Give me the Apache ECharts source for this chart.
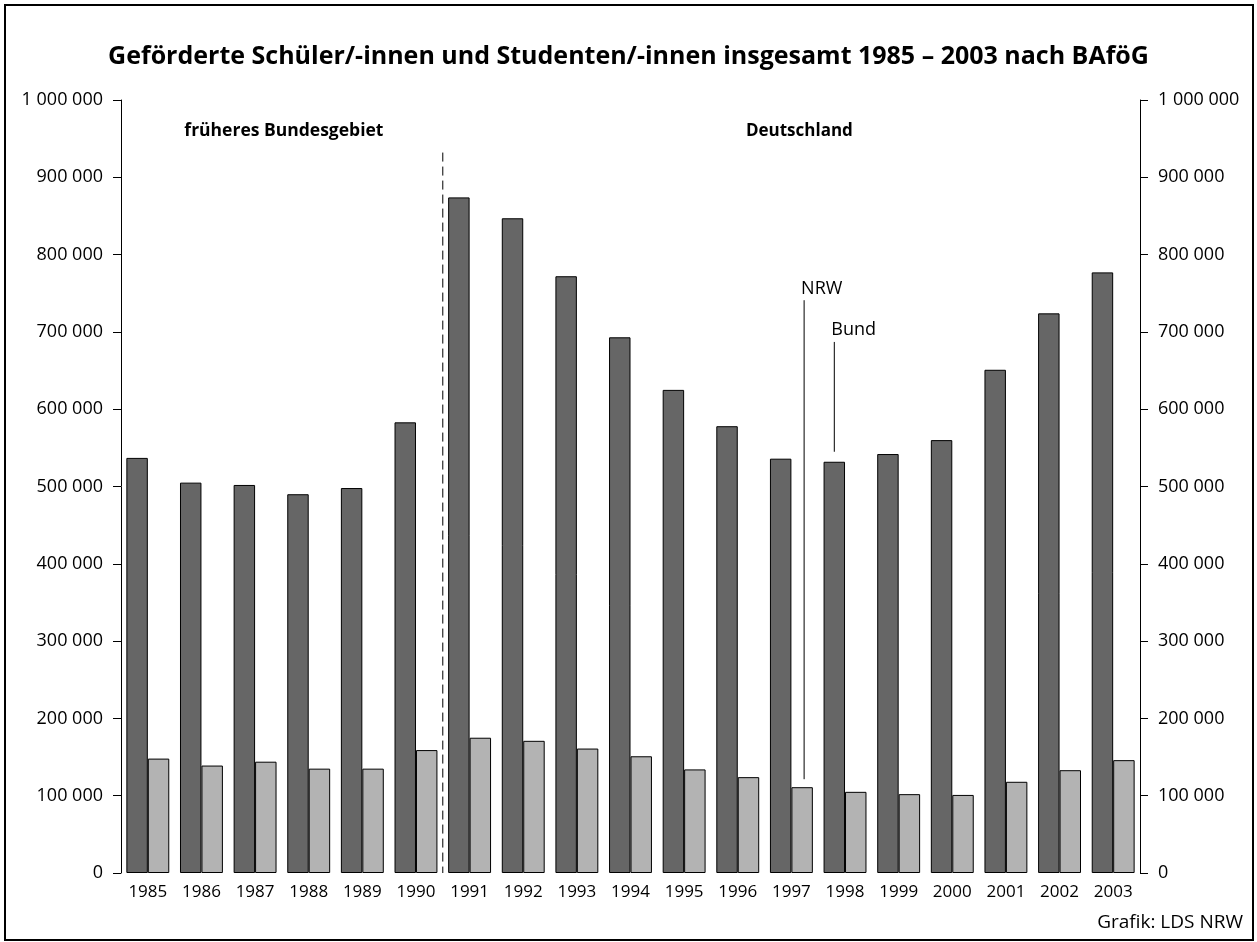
<!DOCTYPE html>
<html>
<head>
<meta charset="utf-8">
<script src="https://cdn.jsdelivr.net/npm/echarts@6/dist/echarts.min.js"></script>
<style>
html,body{margin:0;padding:0;background:#fff;}
#c{width:1257px;height:942px;}
</style>
</head>
<body>
<div id="c"></div>
<script>
const years = ['1985','1986','1987','1988','1989','1990','1991','1992','1993','1994','1995','1996','1997','1998','1999','2000','2001','2002','2003'];
const bund = [537000, 505000, 502000, 490000, 498000, 583000, 874000, 847000, 772000, 693000, 625000, 578000, 536000, 532000, 542000, 560000, 651000, 724000, 777000];
const nrw = [148000, 139000, 144000, 135000, 135000, 159000, 175000, 171000, 161000, 151000, 134000, 124000, 111000, 105000, 102000, 101000, 118000, 133000, 146000];
const yTicks = [0, 100000, 200000, 300000, 400000, 500000, 600000, 700000, 800000, 900000, 1000000];
const title = 'Geförderte Schüler/-innen und Studenten/-innen insgesamt 1985 – 2003 nach BAföG';
const regionLabels = ['früheres Bundesgebiet', 'Deutschland'];
const source = 'Grafik: LDS NRW';

const FONT = "'Open Sans', 'Noto Sans', sans-serif";
const fmt = v => String(v).replace(/\B(?=(\d{3})+(?!\d))/g, ' ');

const chart = echarts.init(document.getElementById('c'), null, {renderer: 'canvas'});

const yAxisBase = {
  type: 'value', min: yTicks[0], max: yTicks[yTicks.length-1], interval: 100000,
  splitLine: {show: false},
  axisLine: {show: true, lineStyle: {color: '#000', width: 1}},
  axisTick: {show: true, length: 8, lineStyle: {color: '#000', width: 1}},
  axisLabel: {fontFamily: FONT, fontSize: 18, color: '#000', margin: 18, formatter: fmt}
};

chart.setOption({
  animation: false,
  backgroundColor: '#fff',
  title: {
    text: title, left: 'center', top: 39,
    textStyle: {fontFamily: FONT, fontWeight: 'bold', fontSize: 25, color: '#000'}
  },
  grid: {left: 121, right: 117, top: 100, height: 773},
  xAxis: {
    type: 'category', data: years,
    axisLine: {show: false}, axisTick: {show: false},
    axisLabel: {fontFamily: FONT, fontSize: 17, color: '#000', margin: 11}
  },
  yAxis: [
    Object.assign({}, yAxisBase, {position: 'left'}),
    Object.assign({}, yAxisBase, {position: 'right'})
  ],
  series: [
    {name: 'Bund', type: 'bar', data: bund, barGap: '0%', barCategoryGap: '20%',
     itemStyle: {color: '#666666', borderColor: '#000', borderWidth: 1}},
    {name: 'NRW', type: 'bar', data: nrw, barGap: '0%', barCategoryGap: '20%',
     itemStyle: {color: '#b3b3b3', borderColor: '#000', borderWidth: 1}}
  ]
});

// Decorations computed from the chart's own scales
const px = (cat, val) => chart.convertToPixel({gridIndex: 0}, [cat, val]);
const i1990 = years.indexOf('1990'), i1991 = years.indexOf('1991');
const xDiv = (px(years[i1990], 0)[0] + px(years[i1991], 0)[0]) / 2;
const y0 = px(years[0], 0)[1];
const yDashTop = px(years[0], 932000)[1];
const yRegion = px(years[0], 960000)[1];
const xLeftRegion = (px(years[0], 0)[0] + px(years[i1990], 0)[0]) / 2 + 2;
const xRightRegion = (px(years[i1991], 0)[0] + px(years[years.length-1], 0)[0]) / 2 + 8;

const nrwLayout = chart.getModel().getSeriesByIndex(1).getData().getItemLayout(years.indexOf('1997'));
const bundLayout = chart.getModel().getSeriesByIndex(0).getData().getItemLayout(years.indexOf('1998'));
const nrwX = nrwLayout.x + nrwLayout.width / 2 + 2;
const nrwBarTop = Math.min(nrwLayout.y, nrwLayout.y + nrwLayout.height);
const bundX = bundLayout.x + bundLayout.width / 2;
const bundBarTop = Math.min(bundLayout.y, bundLayout.y + bundLayout.height);
const nrwLineTop = px(years[0], 741000)[1];
const bundLineTop = px(years[0], 687000)[1];

chart.setOption({
  graphic: [
    {type: 'rect', shape: {x: 5, y: 5, width: 1248, height: 935},
     style: {fill: null, stroke: '#000', lineWidth: 2}, silent: true},
    {type: 'line', shape: {x1: xDiv, y1: yDashTop, x2: xDiv, y2: y0},
     style: {stroke: '#000', lineWidth: 1, lineDash: [9, 5]}},
    {type: 'text', x: xLeftRegion, y: yRegion,
     style: {text: regionLabels[0], fontFamily: FONT, fontWeight: 'bold', fontSize: 17.5, fill: '#000', align: 'center', verticalAlign: 'middle'}},
    {type: 'text', x: xRightRegion, y: yRegion,
     style: {text: regionLabels[1], fontFamily: FONT, fontWeight: 'bold', fontSize: 17, fill: '#000', align: 'center', verticalAlign: 'middle'}},
    {type: 'line', shape: {x1: nrwX, y1: nrwLineTop, x2: nrwX, y2: nrwBarTop - 8},
     style: {stroke: '#000', lineWidth: 1}},
    {type: 'text', x: nrwX - 3, y: nrwLineTop - 11,
     style: {text: 'NRW', fontFamily: FONT, fontSize: 18, fill: '#000', align: 'left', verticalAlign: 'middle'}},
    {type: 'line', shape: {x1: bundX, y1: bundLineTop, x2: bundX, y2: bundBarTop - 10},
     style: {stroke: '#000', lineWidth: 1}},
    {type: 'text', x: bundX - 3, y: bundLineTop - 12,
     style: {text: 'Bund', fontFamily: FONT, fontSize: 18, fill: '#000', align: 'left', verticalAlign: 'middle'}},
    {type: 'text', x: 1243, y: 923,
     style: {text: source, fontFamily: FONT, fontSize: 19, fill: '#000', align: 'right', verticalAlign: 'middle'}}
  ]
});
</script>
</body>
</html>
